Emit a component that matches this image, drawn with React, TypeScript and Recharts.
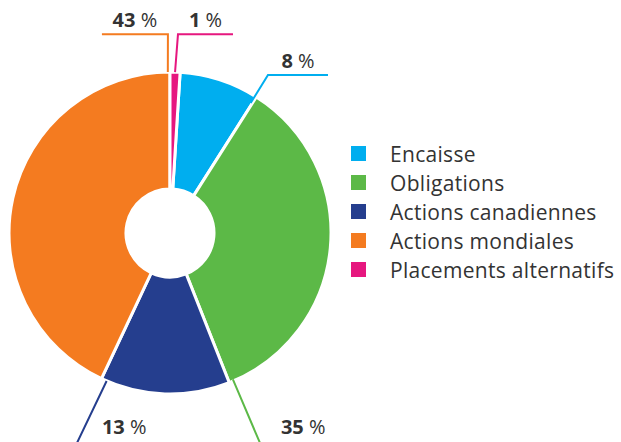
import React from "react";
import { Cell, Legend, Pie, PieChart } from "recharts";

const categories = [
  "Encaisse",
  "Obligations",
  "Actions canadiennes",
  "Actions mondiales",
  "Placements alternatifs",
];
const shares = [8, 35, 13, 43, 1];
const colors = ["#00aeef", "#5cb947", "#253e8e", "#f47b20", "#e6177f"];

// callout geometry: where the line leaves the slice (fraction along the slice, radius ratio),
// where it bends (polar angle, radius ratio), the horizontal run and the text gap above it
const calloutFrom = [
  { frac: 0.98, r: 0.95 },
  { frac: 0.987, r: 0.99 },
  { frac: 0.957, r: 1 },
  { frac: 0.995, r: 1 },
  { frac: 0.5, r: 1 },
];
const calloutBend = [
  { angle: 58.2, r: 1.155, run: 60, gap: 7 },
  { angle: -66.8, r: 1.423, run: 86, gap: 9.5 },
  { angle: -113.9, r: 1.43, run: 95, gap: 9.5 },
  { angle: 90.6, r: 1.235, run: -66, gap: 7 },
  { angle: 87.7, r: 1.235, run: 55, gap: 7 },
];

const data = categories.map((name, i) => ({ name, value: shares[i] }));

const RAD = Math.PI / 180;
const FONT = "'Open Sans', 'Noto Sans', sans-serif";

const renderCallout = (props: any) => {
  const { cx, cy, outerRadius, startAngle, endAngle, index, value } = props;
  const from = calloutFrom[index];
  const bend = calloutBend[index];
  const a = startAngle + from.frac * (endAngle - startAngle);
  const x0 = cx + outerRadius * from.r * Math.cos(a * RAD);
  const y0 = cy - outerRadius * from.r * Math.sin(a * RAD);
  const x1 = cx + outerRadius * bend.r * Math.cos(bend.angle * RAD);
  const y1 = cy - outerRadius * bend.r * Math.sin(bend.angle * RAD);
  const x2 = x1 + bend.run;
  return (
    <g key={`callout-${index}`}>
      <polyline
        points={`${x0},${y0} ${x1},${y1} ${x2},${y1}`}
        fill="none"
        stroke={colors[index]}
        strokeWidth={2}
      />
      <text
        x={(x1 + x2) / 2}
        y={y1 - bend.gap}
        textAnchor="middle"
        fontFamily={FONT}
        fontSize={20}
        fill="#333"
      >
        <tspan fontWeight={700}>{value}</tspan>
        <tspan> %</tspan>
      </text>
    </g>
  );
};

const LegendList = () => (
  <div style={{ fontFamily: FONT, fontSize: 21, letterSpacing: 0.3, color: "#333" }}>
    {categories.map((c, i) => (
      <div
        key={c}
        style={{ display: "flex", alignItems: "center", height: 29 }}
      >
        <span
          style={{
            width: 15,
            height: 15,
            background: colors[i],
            display: "inline-block",
            marginRight: 24,
          }}
        />
        <span>{c}</span>
      </div>
    ))}
  </div>
);

export default function App() {
  return (
    <div style={{ position: "absolute", left: 0, top: 0, background: "#fff" }}>
      <PieChart width={621} height={442} margin={{ top: 0, right: 0, bottom: 0, left: 0 }}>
        <Pie
          data={data}
          dataKey="value"
          nameKey="name"
          cx={170}
          cy={233}
          innerRadius={44}
          outerRadius={161}
          startAngle={86.4}
          endAngle={-273.6}
          stroke="#fff"
          strokeWidth={3}
          label={renderCallout}
          labelLine={false}
          isAnimationActive={false}
        >
          {data.map((d, i) => (
            <Cell key={d.name} fill={colors[i]} />
          ))}
        </Pie>
        <Legend
          content={<LegendList />}
          layout="vertical"
          wrapperStyle={{ left: 351, top: 139, width: 270 }}
        />
      </PieChart>
    </div>
  );
}
